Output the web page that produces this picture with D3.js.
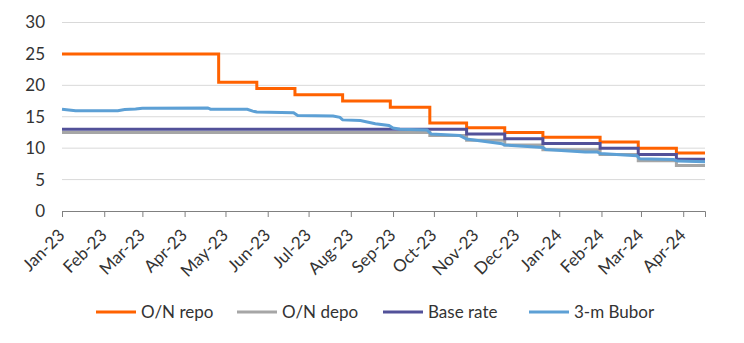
<!DOCTYPE html>
<html>
<head>
<meta charset="utf-8">
<script src="https://cdn.jsdelivr.net/npm/d3@7"></script>
<style>
  body { margin: 0; background: #fff; }
  svg { display: block; font-family: Lato, "Noto Sans", sans-serif; }
</style>
</head>
<body>
<div id="chart"></div>
<script>
// Policy rate step dates (effective days) and levels
const stepDates = ["2023-01-01", "2023-04-26", "2023-05-24", "2023-06-21", "2023-07-26", "2023-08-30",
  "2023-09-28", "2023-10-25", "2023-11-22", "2023-12-20", "2024-01-31", "2024-02-28", "2024-03-27", "2024-04-17"];
const onRepo   = [25, 20.5, 19.5, 18.5, 17.5, 16.5, 14, 13.25, 12.5, 11.75, 11, 10, 9.25, 9.25];
const onDepo   = [12.5, 12.5, 12.5, 12.5, 12.5, 12.5, 12, 11.25, 10.5, 9.75, 9, 8, 7.25, 7.25];
const baseRate = [13, 13, 13, 13, 13, 13, 13, 12.25, 11.5, 10.75, 10, 9, 8.25, 8.25];

// 3-month Bubor
const buborDates = ["2023-01-01", "2023-01-11", "2023-02-11", "2023-02-16", "2023-02-24", "2023-03-01",
  "2023-04-18", "2023-04-20", "2023-05-17", "2023-05-21", "2023-05-24", "2023-06-20", "2023-06-23",
  "2023-07-19", "2023-07-24", "2023-07-26", "2023-08-08", "2023-08-19", "2023-08-29", "2023-09-01",
  "2023-09-06", "2023-09-26", "2023-09-29", "2023-10-20", "2023-10-25", "2023-11-20", "2023-11-22",
  "2023-12-20", "2023-12-22", "2024-01-20", "2024-01-29", "2024-01-31", "2024-02-27", "2024-02-29",
  "2024-03-25", "2024-03-28", "2024-04-17"];
const bubor = [16.2, 15.95, 15.95, 16.15, 16.25, 16.37, 16.4, 16.2, 16.2, 15.9, 15.75, 15.65, 15.2,
  15.1, 14.9, 14.5, 14.4, 13.9, 13.6, 13.2, 13.0, 12.9, 12.25, 12.0, 11.45, 10.7, 10.5,
  10.1, 9.8, 9.4, 9.4, 9.15, 8.8, 8.3, 8.2, 7.95, 7.85];

const monthTicks = ["Jan-23", "Feb-23", "Mar-23", "Apr-23", "May-23", "Jun-23", "Jul-23", "Aug-23",
  "Sep-23", "Oct-23", "Nov-23", "Dec-23", "Jan-24", "Feb-24", "Mar-24", "Apr-24"];
const yTicks = [0, 5, 10, 15, 20, 25, 30];

const seriesNames = ["O/N repo", "O/N depo", "Base rate", "3-m Bubor"];
const seriesColors = ["#FF6200", "#A6A6A6", "#525199", "#5DA0D5"];

const W = 744, H = 343;
const margin = { top: 22.5, right: 39, bottom: 132, left: 62 };
const textColor = "#333";
const parse = d3.timeParse("%Y-%m-%d");
const parseTick = d3.timeParse("%b-%y");

const svg = d3.select("#chart").append("svg")
  .attr("width", W).attr("height", H);

const x = d3.scaleTime()
  .domain([parse("2023-01-01"), parse("2024-04-17")])
  .range([margin.left, W - margin.right]);
const y = d3.scaleLinear()
  .domain([0, 30])
  .range([H - margin.bottom, margin.top]);

// gridlines
svg.append("g").selectAll("line")
  .data(yTicks.filter(d => d > 0))
  .enter().append("line")
  .attr("x1", margin.left).attr("x2", W - margin.right)
  .attr("y1", d => y(d)).attr("y2", d => y(d))
  .style("stroke", "#D9D9D9").style("stroke-width", 1);

// y labels
svg.append("g").selectAll("text")
  .data(yTicks)
  .enter().append("text")
  .attr("x", 45).attr("y", d => y(d))
  .attr("dy", "0.35em")
  .attr("text-anchor", "end")
  .style("font-size", "17px").style("fill", textColor)
  .text(d => d);

// x axis
const tickDates = monthTicks.map(parseTick);
const xAxis = svg.append("g")
  .attr("transform", `translate(0,${y(0)})`)
  .call(d3.axisBottom(x).tickValues(tickDates).tickSize(6).tickFormat(d3.timeFormat("%b-%y")));
xAxis.select(".domain").style("stroke", "#808080");
xAxis.selectAll(".tick line").style("stroke", "#808080");
xAxis.selectAll(".tick text")
  .style("font-size", "17px").style("fill", textColor)
  .style("font-family", "Lato, 'Noto Sans', sans-serif")
  .attr("text-anchor", "end")
  .attr("dy", "0.35em")
  .attr("transform", "translate(-1,21) rotate(-45)")
  .attr("x", 0).attr("y", 0);

// lines
const stepLine = d3.line().curve(d3.curveStepAfter)
  .x(d => x(d[0])).y(d => y(d[1]));
const plainLine = d3.line()
  .x(d => x(d[0])).y(d => y(d[1]));

const dates = stepDates.map(parse);
const series = [
  { vals: onRepo.map((v, i) => [dates[i], v]), gen: stepLine },
  { vals: onDepo.map((v, i) => [dates[i], v]), gen: stepLine },
  { vals: baseRate.map((v, i) => [dates[i], v]), gen: stepLine },
  { vals: bubor.map((v, i) => [parse(buborDates[i]), v]), gen: plainLine }
];

series.forEach((s, i) => {
  svg.append("path")
    .attr("d", s.gen(s.vals))
    .style("fill", "none")
    .style("stroke", seriesColors[i])
    .style("stroke-width", 3);
});

// legend
const legendX = [96, 237, 383, 529];
const legendY = 312;
const legend = svg.append("g");
seriesNames.forEach((name, i) => {
  legend.append("line")
    .attr("x1", legendX[i]).attr("x2", legendX[i] + 40)
    .attr("y1", legendY).attr("y2", legendY)
    .style("stroke", seriesColors[i]).style("stroke-width", 3);
  legend.append("text")
    .attr("x", legendX[i] + 45).attr("y", legendY)
    .attr("dy", "0.35em")
    .style("font-size", "17px").style("fill", textColor)
    .text(name);
});
</script>
</body>
</html>
